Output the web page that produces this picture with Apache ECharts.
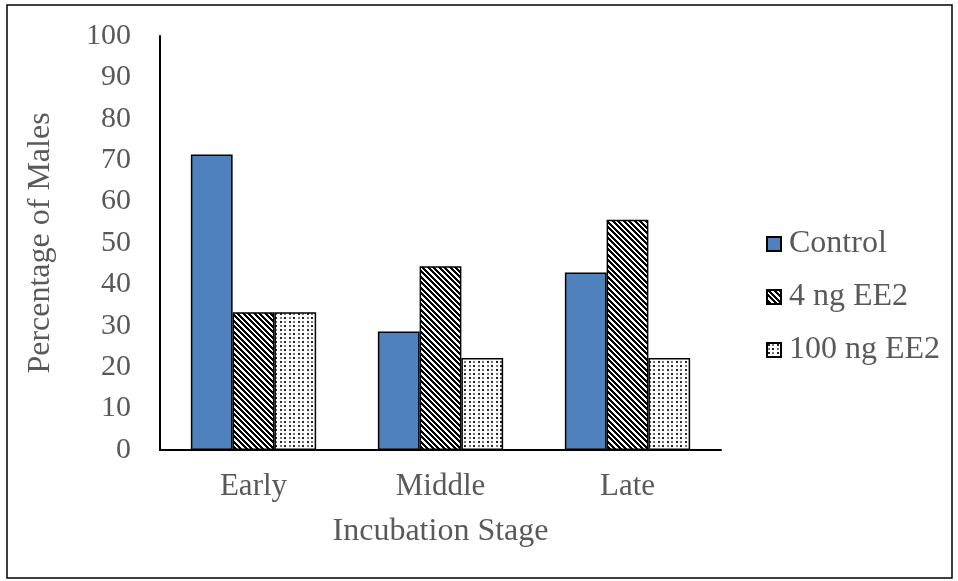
<!DOCTYPE html>
<html>
<head>
<meta charset="utf-8">
<script src="https://cdn.jsdelivr.net/npm/echarts@6/dist/echarts.min.js"></script>
<style>
  html, body { margin: 0; padding: 0; background: #fff; }
  #chart { width: 958px; height: 581px; }
</style>
</head>
<body>
<div id="chart"></div>
<script>
// Incubation stages and the share of males per treatment (%)
const stages = ['Early', 'Middle', 'Late'];
const seriesNames = ['Control', '4 ng EE2', '100 ng EE2'];
const controlValues = [71.4, 28.6, 42.9];
const ee2Low = [33.3, 44.4, 55.6];
const ee2High = [33.3, 22.2, 22.2];
const yTicks = [0, 10, 20, 30, 40, 50, 60, 70, 80, 90, 100];

const FONT = 'Liberation Serif, Times New Roman, serif';
const GREY = '#595959';

// Wide downward diagonal hatch (black/white)
function stripePattern() {
  const n = 11;
  const c = document.createElement('canvas');
  c.width = n; c.height = n;
  const ctx = c.getContext('2d');
  ctx.fillStyle = '#fff';
  ctx.fillRect(0, 0, n, n);
  ctx.fillStyle = '#000';
  for (let y = 0; y < n; y++) {
    for (let x = 0; x < n; x++) {
      const d = (((x - y) % n) + n) % n;
      if ((d % 5.5) < 2.75) ctx.fillRect(x, y, 1, 1);
    }
  }
  return c;
}

// Small dotted grid on white
function dotPattern() {
  const c = document.createElement('canvas');
  c.width = 9; c.height = 8;
  const ctx = c.getContext('2d');
  ctx.fillStyle = '#fff';
  ctx.fillRect(0, 0, 9, 8);
  ctx.fillStyle = '#222';
  ctx.fillRect(1, 1, 2, 2);
  ctx.fillRect(5, 5, 2, 2);
  ctx.fillStyle = '#777';
  ctx.fillRect(5, 1, 2, 2);
  ctx.fillRect(1, 5, 2, 2);
  return c;
}

const chart = echarts.init(document.getElementById('chart'), null, { renderer: 'canvas' });

const barBorder = { borderColor: '#000', borderWidth: 1.5 };

chart.setOption({
  animation: false,
  backgroundColor: '#fff',
  graphic: [{
    type: 'rect',
    shape: { x: 7, y: 5, width: 945, height: 573 },
    style: { fill: 'none', stroke: '#000', lineWidth: 1.5 },
    silent: true
  }],
  grid: { left: 160, top: 36, right: 237, bottom: 131, containLabel: false },
  legend: {
    orient: 'vertical',
    left: 761,
    top: 223,
    itemWidth: 14,
    itemHeight: 14,
    itemGap: 21,
    icon: 'rect',
    textStyle: { fontFamily: FONT, fontSize: 32, color: GREY, padding: [0, 0, 0, 3] },
    data: seriesNames
  },
  xAxis: {
    type: 'category',
    data: stages,
    name: 'Incubation Stage',
    nameLocation: 'middle',
    nameGap: 66,
    nameTextStyle: { fontFamily: FONT, fontSize: 32, color: GREY },
    axisLine: { lineStyle: { color: '#000', width: 2 } },
    axisTick: { show: false },
    axisLabel: { fontFamily: FONT, fontSize: 31, color: GREY, margin: 21 }
  },
  yAxis: {
    type: 'value',
    min: yTicks[0],
    max: yTicks[yTicks.length - 1],
    interval: 10,
    name: 'Percentage of Males',
    nameLocation: 'middle',
    nameGap: 103,
    nameTextStyle: { fontFamily: FONT, fontSize: 32, color: GREY },
    axisLine: { show: true, lineStyle: { color: '#000', width: 2 } },
    axisTick: { show: false },
    splitLine: { show: false },
    axisLabel: { fontFamily: FONT, fontSize: 30, color: GREY, margin: 29 }
  },
  series: [
    {
      name: seriesNames[0], type: 'bar', data: controlValues,
      barGap: '0%', barCategoryGap: '33%',
      itemStyle: Object.assign({ color: '#4f81bd' }, barBorder)
    },
    {
      name: seriesNames[1], type: 'bar', data: ee2Low,
      barGap: '0%', barCategoryGap: '33%',
      itemStyle: Object.assign({ color: { image: stripePattern(), repeat: 'repeat' } }, barBorder)
    },
    {
      name: seriesNames[2], type: 'bar', data: ee2High,
      barGap: '0%', barCategoryGap: '33%',
      itemStyle: Object.assign({ color: { image: dotPattern(), repeat: 'repeat' } }, barBorder)
    }
  ]
});
</script>
</body>
</html>
